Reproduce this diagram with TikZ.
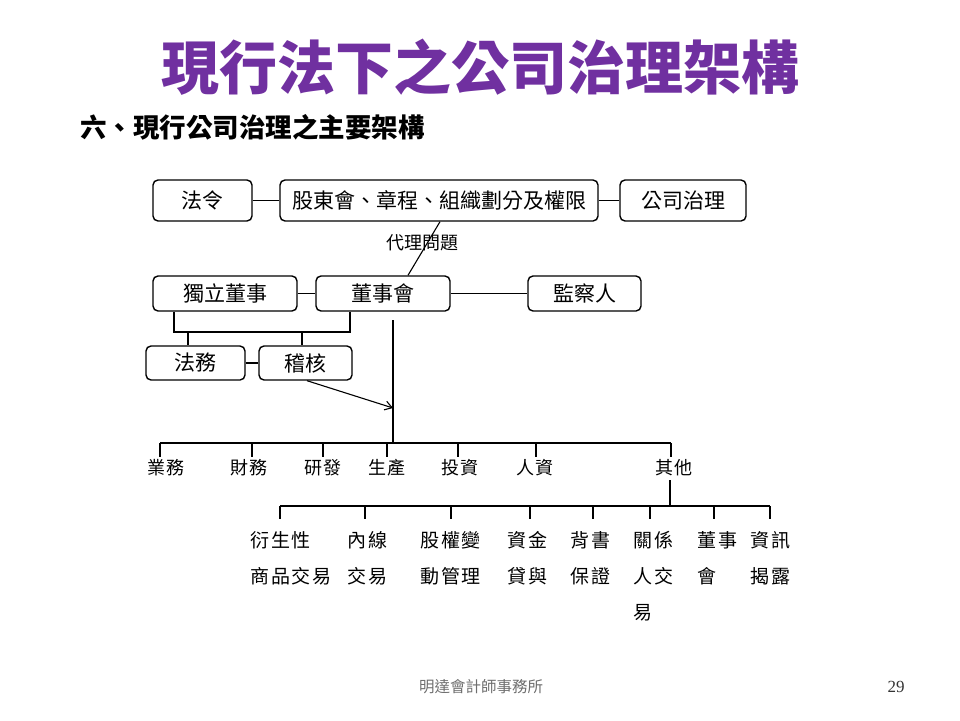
\documentclass[tikz,border=0pt]{standalone}
\usepackage{fontspec}
\newfontfamily\cjk{Noto Sans CJK TC}
\newfontfamily\cjksp[LetterSpace=10]{Noto Sans CJK TC}
\newfontfamily\serifnum{Liberation Serif}
\usetikzlibrary{arrows.meta}
\definecolor{titlepurple}{RGB}{112,48,160}
\definecolor{footgray}{RGB}{110,110,110}
\begin{document}
\begin{tikzpicture}[x=1pt,y=-1pt,
  box/.style={draw, rounded corners=5pt, line width=1.4pt, inner sep=0pt,
    font=\cjk\fontsize{21}{24}\selectfont},
  conn/.style={line width=1.1pt},
  lab/.style={inner sep=0pt, font=\cjksp\fontsize{18}{22}\selectfont},
  sublab/.style={inner sep=0pt, anchor=north west, align=left,
    font=\cjksp\fontsize{19}{36}\selectfont}]
\useasboundingbox (0,0) rectangle (960,720);

% titles
\node[inner sep=0pt, text=titlepurple, font=\cjk\bfseries\fontsize{58}{62}\selectfont] (title) at (480,67) {現行法下之公司治理架構};
\node[inner sep=0pt, anchor=west, font=\cjk\bfseries\fontsize{26.5}{30}\selectfont] (sub) at (80,127) {六、現行公司治理之主要架構};

% row 1
\node[box, minimum width=99pt, minimum height=41pt] (fl) at (202.5,200.5) {法令};
\node[box, minimum width=318pt, minimum height=41pt] (gd) at (439,200.5) {股東會、章程、組織劃分及權限};
\node[box, minimum width=126pt, minimum height=41pt] (gs) at (683,200.5) {公司治理};
\draw[conn] (fl) -- (gd);
\draw[conn] (gd) -- (gs);

% row 2
\node[box, minimum width=144pt, minimum height=35pt] (dlds) at (225,293.5) {獨立董事};
\node[box, minimum width=134pt, minimum height=35pt] (dsh) at (383,293.5) {董事會};
\node[box, minimum width=113pt, minimum height=35pt] (jcr) at (584.5,293.5) {監察人};
\draw[conn] (dlds) -- (dsh);
\draw[conn] (dsh) -- (jcr);

% agency problem
\draw[conn] (440,0 |- gd.south) -- (408,0 |- dsh.north);
\node[inner sep=0pt, font=\cjk\fontsize{18}{22}\selectfont] (dlwt) at (422,243) {代理問題};

% row 3
\node[box, minimum width=99pt, minimum height=34pt] (fw) at (195.5,363) {法務};
\node[box, minimum width=93pt, minimum height=34pt] (jh) at (305.5,363) {稽核};
\draw[conn] (fw) -- (jh);

% bracket
\draw[conn] (174,0 |- dlds.south) -- (174,332) -- (350,332) -- (350,0 |- dsh.south);
\draw[conn] (188,332) -- (188,0 |- fw.north);
\draw[conn] (302,332) -- (302,0 |- jh.north);

% main vertical and arrow
\coordinate (vtop) at (393,320);
\coordinate (vbus) at (393,443);
\coordinate (ahead) at (393,408);
\draw[conn] (vtop) -- (vbus);
\draw[conn, -{Straight Barb[length=7pt,width=9pt]}] (307,0 |- jh.south) -- (ahead);

% first bus
\draw[conn] (160,443) -- (671,443);
\foreach \x in {160,252,323,387,458,536,671}
  \draw[conn] (\x,443) -- (\x,457);
\node[lab, anchor=west] (yw) at (147,468) {業務};
\node[lab, anchor=west] (cw) at (230,468) {財務};
\node[lab, anchor=west] (yf) at (304,468) {研發};
\node[lab, anchor=west] (sc) at (368,468) {生產};
\node[lab, anchor=west] (tz) at (441,468) {投資};
\node[lab, anchor=west] (rz) at (516,468) {人資};
\node[lab, anchor=west] (qt) at (655,468) {其他};

% second bus
\draw[conn] (670,0 |- qt.south) ++(0,4) -- (670,506);
\draw[conn] (280,506) -- (770,506);
\foreach \x in {280,365,451,530,593,650,714,770}
  \draw[conn] (\x,506) -- (\x,519);
\node[sublab] (s1) at (250,531) {衍生性\\商品交易};
\node[sublab] (s2) at (347,531) {內線\\交易};
\node[sublab] (s3) at (420,531) {股權變\\動管理};
\node[sublab] (s4) at (507,531) {資金\\貸與};
\node[sublab] (s5) at (570,531) {背書\\保證};
\node[sublab] (s6) at (633,531) {關係\\人交\\易};
\node[sublab] (s7) at (697,531) {董事\\會};
\node[sublab] (s8) at (750,531) {資訊\\揭露};

% footer
\node[inner sep=0pt, text=footgray, font=\cjk\fontsize{15.5}{18}\selectfont] (foot) at (481,687) {明達會計師事務所};
\node[inner sep=0pt, text=black!80, font=\serifnum\fontsize{17}{20}\selectfont] (pg) at (896,687) {29};
\end{tikzpicture}
\end{document}
